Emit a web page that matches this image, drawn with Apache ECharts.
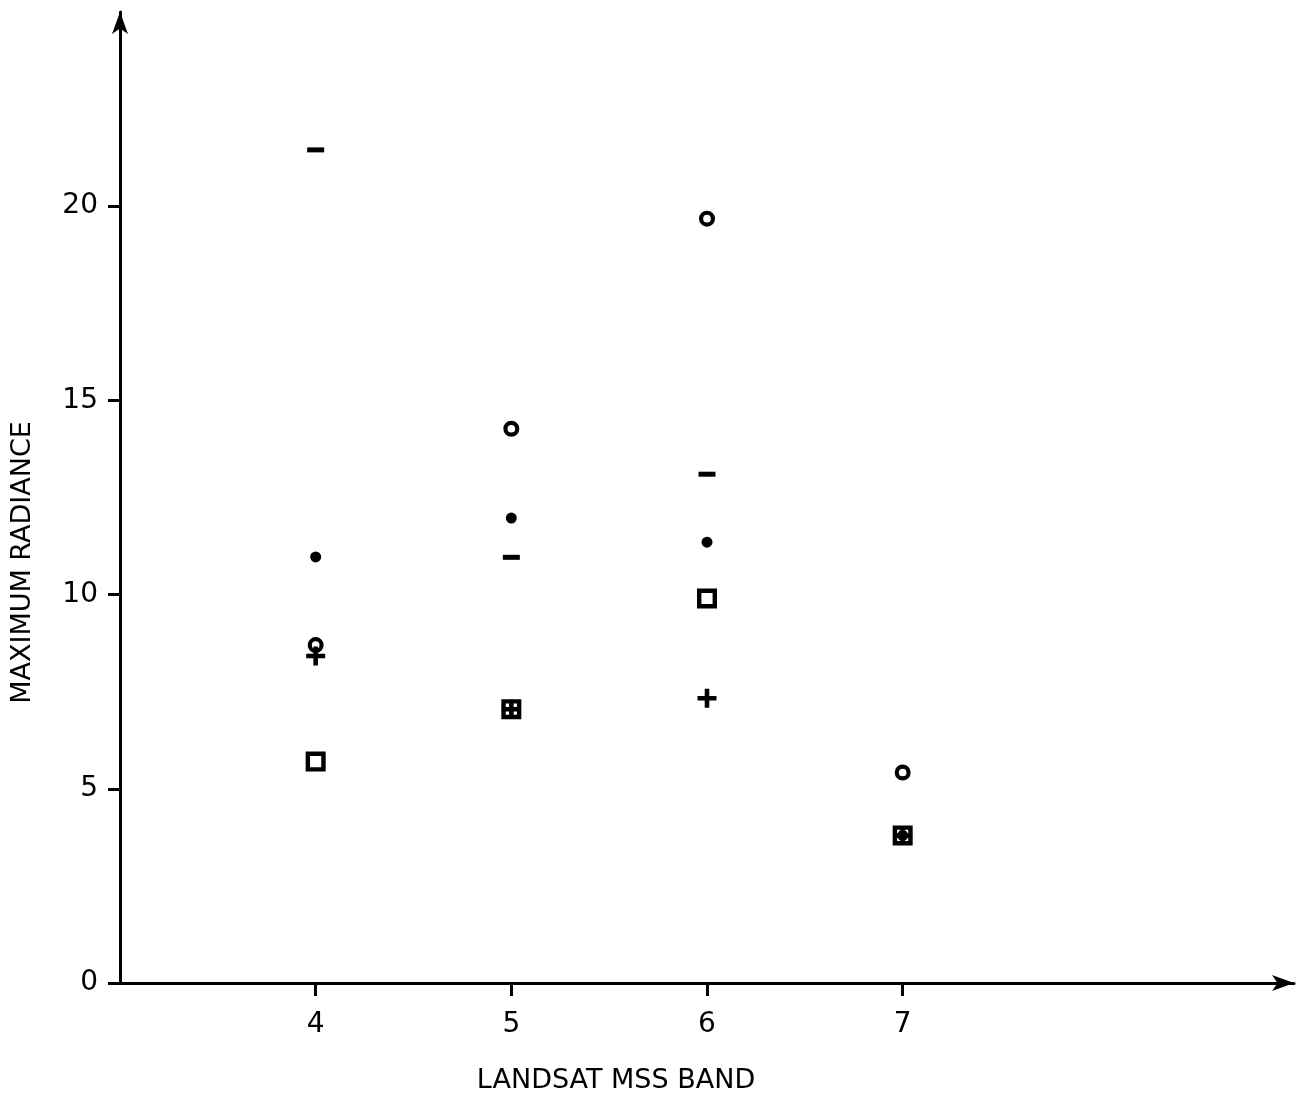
<!DOCTYPE html>
<html>
<head>
<meta charset="utf-8">
<script src="https://cdn.jsdelivr.net/npm/echarts@6/dist/echarts.min.js"></script>
<style>
  html, body { margin: 0; padding: 0; background: #fff; }
  #chart { width: 1301px; height: 1094px; }
</style>
</head>
<body>
<div id="chart"></div>
<script>
// ---- data ----
const xTickValues = [4, 5, 6, 7];          // Landsat MSS bands
const yTickValues = [0, 5, 10, 15, 20];
const xTitle = 'LANDSAT MSS BAND';
const yTitle = 'MAXIMUM RADIANCE';

const squareBands = [4, 5, 6, 7];
const squareValues = [5.7, 7.05, 9.9, 3.8];

const plusBands = [4, 5, 6, 7];
const plusValues = [8.42, 7.05, 7.33, 3.8];

const circleBands = [4, 5, 6, 7];
const circleValues = [8.7, 14.27, 19.68, 5.42];

const dotBands = [4, 5, 6, 7];
const dotValues = [10.97, 11.97, 11.35, 3.8];

const dashBands = [4, 5, 6];
const dashValues = [21.45, 10.96, 13.1];

function pairs(xs, ys) { return xs.map((x, i) => [x, ys[i]]); }

const SYM_SQUARE = 'path://M0,0H10V10H0Z M2.2,2.2V7.8H7.8V2.2Z';
const SYM_PLUS = 'path://M3.8,0H6.2V10H3.8Z M0,3.8H10V6.2H0Z';
const SYM_RING = 'path://M10,5A5,5 0 1 1 0,5A5,5 0 1 1 10,5Z M7.4,5A2.4,2.4 0 1 0 2.6,5A2.4,2.4 0 1 0 7.4,5Z';

const FONT = 'DejaVu Sans';
const black = '#000';

const chart = echarts.init(document.getElementById('chart'), null, { renderer: 'canvas' });

function sc(name, data, symbol, size) {
  return {
    type: 'scatter', name, data, symbol, symbolSize: size,
    itemStyle: { color: black, opacity: 1 },
    emphasis: { disabled: true },
    silent: true
  };
}

chart.setOption({
  backgroundColor: '#fff',
  animation: false,
  grid: { left: 120, right: 7, top: 12, bottom: 111, containLabel: false, outerBoundsMode: 'none' },
  xAxis: {
    type: 'value', min: 3, max: 9, interval: 1,
    name: xTitle, nameLocation: 'middle', nameGap: 84,
    nameTextStyle: { fontFamily: FONT, fontSize: 27, color: black, padding: [0, 182, 0, 0] },
    axisLine: { show: true, onZero: false, symbol: ['none', 'arrow'], symbolSize: [12, 22],
      lineStyle: { color: black, width: 3 } },
    axisTick: { show: true, length: 13, customValues: xTickValues, lineStyle: { color: black, width: 3 } },
    axisLabel: { customValues: xTickValues, margin: 28, fontFamily: FONT, fontSize: 28, color: black },
    splitLine: { show: false }
  },
  yAxis: {
    type: 'value', min: 0, max: 25, interval: 5,
    name: yTitle, nameLocation: 'middle', nameGap: 84,
    nameTextStyle: { fontFamily: FONT, fontSize: 27, color: black, padding: [0, 130, 0, 0] },
    axisLine: { show: true, symbol: ['none', 'arrow'], symbolSize: [12, 22],
      lineStyle: { color: black, width: 3 } },
    axisTick: { show: true, length: 12, customValues: yTickValues, lineStyle: { color: black, width: 3 } },
    axisLabel: { customValues: yTickValues, margin: 22, fontFamily: FONT, fontSize: 28, color: black },
    splitLine: { show: false }
  },
  series: [
    sc('square', pairs(squareBands, squareValues), SYM_SQUARE, 20),
    sc('plus', pairs(plusBands, plusValues), SYM_PLUS, 19),
    sc('circle', pairs(circleBands, circleValues), SYM_RING, 16),
    sc('dot', pairs(dotBands, dotValues), 'circle', 11),
    sc('dash', pairs(dashBands, dashValues), 'rect', [17, 5])
  ]
});
</script>
</body>
</html>
